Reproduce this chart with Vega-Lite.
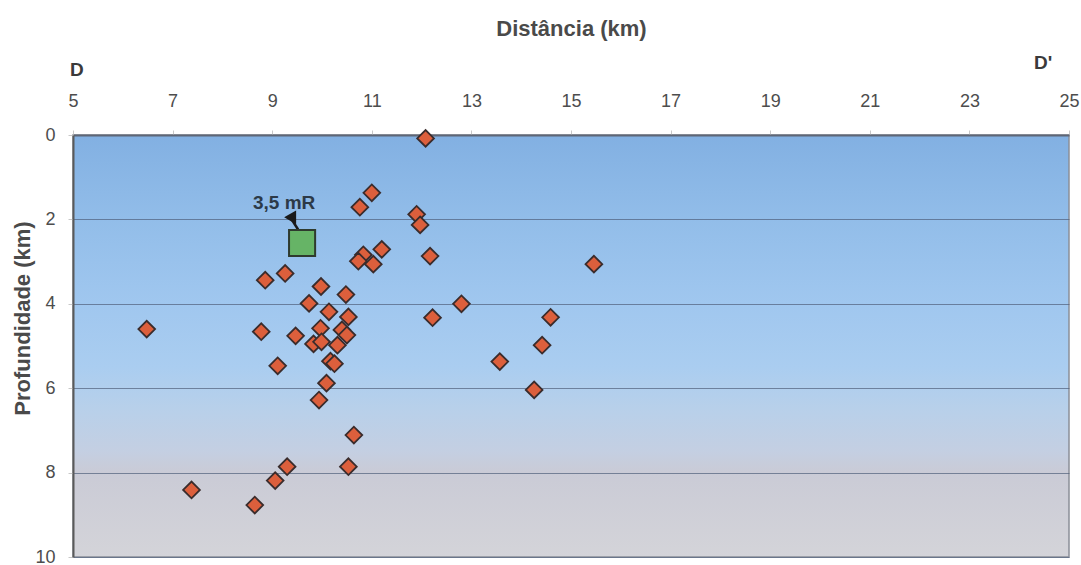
{
  "$schema": "https://vega.github.io/schema/vega-lite/v6.json",
  "width": 996,
  "height": 422,
  "autosize": "none",
  "padding": {"left": 73, "top": 135, "right": 12, "bottom": 8},
  "background": "white",
  "view": {
    "fill": {
      "gradient": "linear", "x1": 0, "y1": 0, "x2": 0, "y2": 1,
      "stops": [
        {"offset": 0, "color": "#82b0e2"},
        {"offset": 0.2, "color": "#92bde9"},
        {"offset": 0.4, "color": "#a0c7ef"},
        {"offset": 0.55, "color": "#aacdf0"},
        {"offset": 0.65, "color": "#b8d0ea"},
        {"offset": 0.75, "color": "#c4cfe2"},
        {"offset": 0.8, "color": "#cacbd6"},
        {"offset": 1, "color": "#d4d4d9"}
      ]
    },
    "stroke": "#8a8e98",
    "strokeWidth": 1.5
  },
  "config": {"font": "Liberation Sans"},
  "datasets": {
    "quakes": [
      {"x": 12.08, "depth": 0.08},
      {"x": 11.0, "depth": 1.37},
      {"x": 10.76, "depth": 1.71},
      {"x": 11.9, "depth": 1.88},
      {"x": 11.97, "depth": 2.13},
      {"x": 11.2, "depth": 2.71},
      {"x": 10.83, "depth": 2.84},
      {"x": 10.73, "depth": 2.99},
      {"x": 11.03, "depth": 3.06},
      {"x": 12.17, "depth": 2.87},
      {"x": 15.46, "depth": 3.06},
      {"x": 9.26, "depth": 3.28},
      {"x": 8.86, "depth": 3.44},
      {"x": 9.98, "depth": 3.59},
      {"x": 10.48, "depth": 3.78},
      {"x": 9.74, "depth": 3.99},
      {"x": 12.8, "depth": 4.0},
      {"x": 10.14, "depth": 4.19},
      {"x": 10.53, "depth": 4.31},
      {"x": 12.22, "depth": 4.33},
      {"x": 14.59, "depth": 4.32},
      {"x": 6.48, "depth": 4.6},
      {"x": 8.78, "depth": 4.66},
      {"x": 9.97, "depth": 4.58},
      {"x": 9.47, "depth": 4.76},
      {"x": 10.4, "depth": 4.62},
      {"x": 10.5, "depth": 4.74},
      {"x": 9.83, "depth": 4.95},
      {"x": 9.99, "depth": 4.9},
      {"x": 10.31, "depth": 4.98},
      {"x": 14.42, "depth": 4.98},
      {"x": 9.11, "depth": 5.47},
      {"x": 10.17, "depth": 5.36},
      {"x": 10.25, "depth": 5.42},
      {"x": 13.57, "depth": 5.37},
      {"x": 10.09, "depth": 5.88},
      {"x": 14.26, "depth": 6.04},
      {"x": 9.94, "depth": 6.28},
      {"x": 10.64, "depth": 7.11},
      {"x": 9.3, "depth": 7.86},
      {"x": 10.53, "depth": 7.86},
      {"x": 9.06, "depth": 8.19},
      {"x": 7.38, "depth": 8.41},
      {"x": 8.65, "depth": 8.77}
    ],
    "station": [{"x": 9.6, "depth": 2.56}],
    "arrow": [{"x": 9.52, "depth": 2.24, "x2": 9.38, "depth2": 1.98}],
    "arrowhead": [{"x": 9.36, "depth": 1.95}],
    "station_label": [{"x": 9.24, "depth": 1.6, "label": "3,5 mR"}],
    "ends": [
      {"x": 5.08, "depth": -1.54, "label": "D"},
      {"x": 24.48, "depth": -1.71, "label": "D'"}
    ]
  },
  "encoding": {
    "x": {
      "field": "x", "type": "quantitative",
      "scale": {"domain": [5, 25], "nice": false, "zero": false},
      "axis": {
        "orient": "top", "title": "Distância (km)",
        "values": [5, 7, 9, 11, 13, 15, 17, 19, 21, 23, 25],
        "grid": false, "domain": true, "domainColor": "#5e6676", "domainWidth": 2,
        "ticks": true, "tickSize": 5, "tickColor": "#c8c8c8",
        "labelFontSize": 18, "labelColor": "#4d4d4d", "labelPadding": 20,
        "labelFlush": false, "labelOverlap": false,
        "titleFontSize": 22, "titleFontWeight": "bold", "titleColor": "#4a4a4a",
        "titleX": 498, "titleY": -107, "titleBaseline": "middle", "titleAlign": "center", "titleAngle": 0
      }
    },
    "y": {
      "field": "depth", "type": "quantitative",
      "scale": {"domain": [0, 10], "reverse": true, "nice": false, "zero": false},
      "axis": {
        "orient": "left", "title": "Profundidade (km)",
        "values": [0, 2, 4, 6, 8, 10],
        "grid": true, "gridColor": "#50607a", "gridOpacity": 0.7, "gridWidth": 1,
        "domain": true, "domainColor": "#5a5a5a", "domainWidth": 2,
        "ticks": true, "tickSize": 5, "tickColor": "#c8c8c8",
        "labelFontSize": 18, "labelColor": "#4d4d4d", "labelPadding": 13,
        "labelFlush": false, "labelOverlap": false,
        "titleFontSize": 22, "titleFontWeight": "bold", "titleColor": "#4a4a4a",
        "titleX": -51, "titleY": 183, "titleAngle": -90, "titleAlign": "center", "titleBaseline": "middle"
      }
    }
  },
  "layer": [
    {
      "data": {"name": "quakes"},
      "mark": {"type": "point", "shape": "diamond", "filled": true, "size": 280, "fill": "#dc5f3c", "stroke": "#3a2c2c", "strokeWidth": 1.8, "strokeOpacity": 1, "opacity": 1}
    },
    {
      "data": {"name": "arrow"},
      "mark": {"type": "rule", "color": "#1a1a1a", "strokeWidth": 2.5},
      "encoding": {"x2": {"field": "x2"}, "y2": {"field": "depth2"}}
    },
    {
      "data": {"name": "arrowhead"},
      "mark": {"type": "point", "shape": "triangle-left", "filled": true, "size": 190, "color": "#1a1a1a", "opacity": 1}
    },
    {
      "data": {"name": "station"},
      "mark": {"type": "point", "shape": "square", "filled": true, "size": 680, "fill": "#66b466", "stroke": "#2e3a2e", "strokeWidth": 2, "strokeOpacity": 1, "opacity": 1}
    },
    {
      "data": {"name": "station_label"},
      "mark": {"type": "text", "fontSize": 19, "fontWeight": "bold", "color": "#2c3a48"},
      "encoding": {"text": {"field": "label"}}
    },
    {
      "data": {"name": "ends"},
      "mark": {"type": "text", "fontSize": 19, "fontWeight": "bold", "color": "#3a3a3a"},
      "encoding": {"text": {"field": "label"}}
    }
  ]
}
